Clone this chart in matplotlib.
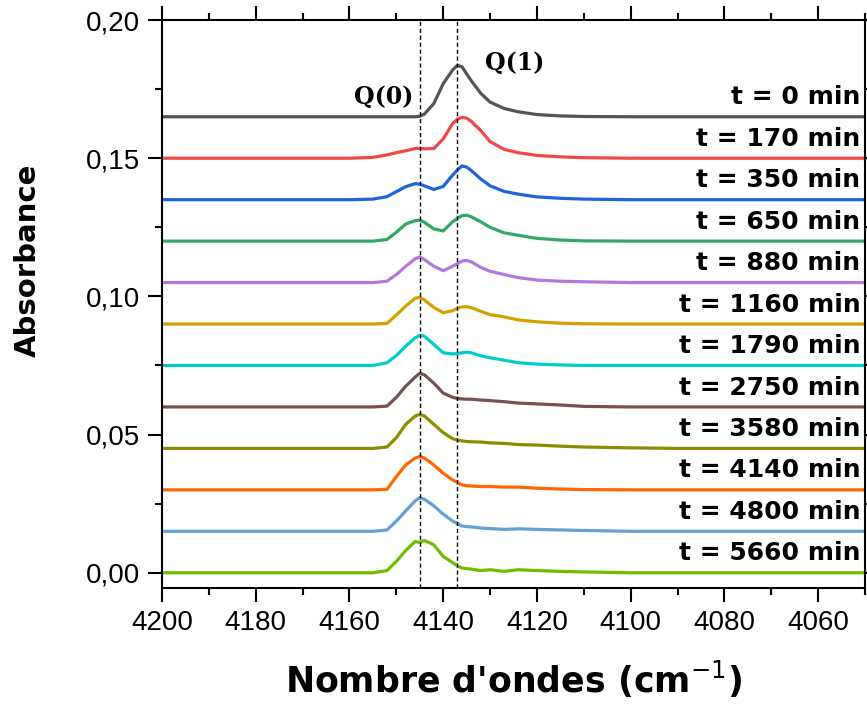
import matplotlib
matplotlib.use("Agg")
import matplotlib.pyplot as plt
import numpy as np
from matplotlib.ticker import MultipleLocator, FuncFormatter

# wavenumber grid (cm-1) and absorbance above each trace's baseline (x 1e-3)
wn = [4200, 4190, 4180, 4170, 4160, 4155, 4152, 4150, 4148, 4146,
      4145, 4144, 4142, 4140, 4138, 4137, 4136, 4135, 4134, 4132,
      4130, 4127, 4124, 4120, 4115, 4110, 4100, 4090, 4080, 4070, 4060, 4050]

a_0 = [0, 0, 0, 0, 0, 0, 0, 0, 0, 0, 0.2, 1.0, 4.8, 12.0, 16.9, 18.6, 18.1, 15.5, 13.0, 8.5, 5.3, 3.0, 1.8, 0.8, 0.3, 0.1, 0, 0, 0, 0, 0, 0]
a_170 = [0, 0, 0, 0, 0, 0.3, 1.2, 2.0, 2.7, 3.5, 3.6, 3.4, 3.5, 7.0, 12.5, 14.1, 14.8, 14.5, 13.3, 10.0, 6.0, 3.2, 2.0, 1.0, 0.5, 0.2, 0, 0, 0, 0, 0, 0]
a_350 = [0, 0, 0, 0, 0, 0.2, 1.1, 2.9, 4.7, 5.8, 5.6, 5.0, 3.7, 4.8, 8.9, 10.7, 12.2, 11.8, 10.5, 7.5, 5.0, 3.0, 2.0, 1.0, 0.5, 0.2, 0, 0, 0, 0, 0, 0]
a_650 = [0, 0, 0, 0, 0, 0, 0.6, 3.2, 6.2, 7.4, 7.6, 6.8, 4.4, 3.7, 7.0, 8.2, 9.2, 9.4, 8.8, 7.0, 5.0, 3.0, 2.1, 1.0, 0.4, 0.1, 0, 0, 0, 0, 0, 0]
a_880 = [0, 0, 0, 0, 0, 0, 0.5, 2.9, 5.9, 8.6, 9.3, 8.3, 5.9, 4.3, 5.9, 6.8, 7.8, 8.0, 7.5, 5.5, 4.1, 2.9, 1.8, 0.9, 0.5, 0.3, 0, 0, 0, 0, 0, 0]
a_1160 = [0, 0, 0, 0, 0, 0, 0.2, 3.3, 6.5, 9.3, 9.7, 8.7, 6.0, 4.1, 4.8, 5.7, 6.2, 6.3, 5.9, 4.6, 3.4, 2.6, 1.5, 0.8, 0.3, 0.1, 0, 0, 0, 0, 0, 0]
a_1790 = [0, 0, 0, 0, 0, 0, 1.0, 3.6, 7.0, 10.0, 10.9, 10.6, 7.6, 4.6, 4.2, 4.3, 4.6, 4.8, 4.6, 3.5, 2.8, 1.9, 1.0, 0.5, 0.2, 0, 0, 0, 0, 0, 0, 0]
a_2750 = [0, 0, 0, 0, 0, 0, 0.3, 3.5, 7.5, 10.8, 12.2, 11.6, 8.6, 5.0, 3.5, 3.1, 2.9, 2.8, 2.8, 2.5, 2.3, 1.9, 1.4, 1.1, 0.7, 0.2, 0, 0, 0, 0, 0, 0]
a_3580 = [0, 0, 0, 0, 0, 0, 0.5, 3.9, 8.7, 11.7, 12.3, 11.7, 8.7, 5.7, 3.5, 3.0, 2.7, 2.5, 2.4, 2.3, 2.0, 1.8, 1.4, 1.2, 0.8, 0.5, 0.2, 0, 0, 0, 0, 0]
a_4140 = [0, 0, 0, 0, 0, 0, 0.2, 4.8, 9.0, 11.5, 12.1, 11.5, 9.0, 6.0, 3.6, 2.7, 1.8, 1.5, 1.4, 1.2, 1.2, 1.0, 1.0, 0.6, 0.3, 0.1, 0, 0, 0, 0, 0, 0]
a_4800 = [0, 0, 0, 0, 0, 0, 0.5, 3.7, 7.4, 11.0, 12.2, 11.6, 9.2, 6.2, 3.7, 2.8, 1.9, 1.7, 1.6, 1.2, 1.0, 0.7, 0.9, 0.7, 0.5, 0.3, 0, 0, 0, 0, 0, 0]
a_5660 = [0, 0, 0, 0, 0, 0, 0.8, 4.1, 8.1, 11.3, 11.0, 11.7, 10.1, 5.9, 3.7, 2.5, 1.7, 1.5, 1.3, 0.8, 1.1, 0.5, 1.1, 0.8, 0.5, 0.3, 0, 0, 0, 0, 0, 0]

spectra = [a_0, a_170, a_350, a_650, a_880, a_1160, a_1790, a_2750, a_3580, a_4140, a_4800, a_5660]
times = [0, 170, 350, 650, 880, 1160, 1790, 2750, 3580, 4140, 4800, 5660]
offsets = [0.165, 0.150, 0.135, 0.120, 0.105, 0.090, 0.075, 0.060, 0.045, 0.030, 0.015, 0.000]
colors = ["#555555", "#f04848", "#1f64dc", "#33a864", "#b478dc", "#d2a000",
          "#00cccc", "#7a4f4f", "#8c8c00", "#ff6600", "#64a0d2", "#6ebe00"]
q_lines = [4145, 4137]

fig = plt.figure(figsize=(8.67, 7.18), dpi=100)
ax = fig.add_axes([0.1869, 0.1811, 0.8108, 0.791])

for vals, off, c, t in zip(spectra, offsets, colors, times):
    y = np.array(vals) * 1e-3 + off
    ax.plot(wn, y, color=c, lw=2.3, solid_joinstyle="round")
    ax.text(4051, off + 0.0045, "t = %d min" % t, ha="right", va="baseline",
            fontsize=18, fontweight="bold", family="DejaVu Sans")

for q in q_lines:
    ax.axvline(q, color="black", lw=1.0, ls=(0, (3, 2)))

ax.text(4152.8, 0.1722, "Q(0)", ha="center", va="center", fontsize=17,
        fontweight="bold", family="DejaVu Serif")
ax.text(4124.7, 0.1844, "Q(1)", ha="center", va="center", fontsize=17,
        fontweight="bold", family="DejaVu Serif")

ax.set_xlim(4200, 4050)
ax.set_ylim(-0.0055, 0.2)
ax.xaxis.set_major_locator(MultipleLocator(20))
ax.xaxis.set_minor_locator(MultipleLocator(10))
ax.yaxis.set_major_locator(MultipleLocator(0.05))
ax.yaxis.set_minor_locator(MultipleLocator(0.025))
ax.yaxis.set_major_formatter(FuncFormatter(lambda v, p: ("%.2f" % v).replace(".", ",")))

ax.tick_params(which="both", direction="out", top=True, right=True, width=1.5)
ax.tick_params(which="major", length=10, labelsize=20, pad=6)
ax.tick_params(which="minor", length=5)
for lab in ax.get_xticklabels() + ax.get_yticklabels():
    lab.set_family("Liberation Sans")
for s in ax.spines.values():
    s.set_linewidth(1.5)

ax.set_xlabel("Nombre d'ondes (cm$^{-1}$)", fontsize=25, fontweight="bold",
              family="DejaVu Sans")
ax.set_ylabel("Absorbance", fontsize=21, fontweight="bold",
              family="DejaVu Sans")
ax.xaxis.set_label_coords(0.50, -0.125)
ax.yaxis.set_label_coords(-0.171, 0.577)

plt.savefig("out.png", dpi=100)
